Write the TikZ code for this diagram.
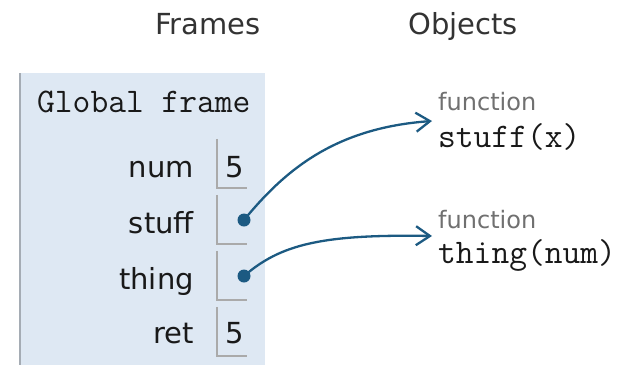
\documentclass[tikz,border=0pt]{standalone}
\usepackage{fontspec}
\setmainfont{DejaVu Sans}
\usetikzlibrary{arrows.meta,calc}
\definecolor{framebg}{RGB}{222,232,243}
\definecolor{framerule}{RGB}{165,172,180}
\definecolor{cellrule}{RGB}{170,170,170}
\definecolor{pointer}{RGB}{28,90,130}
\definecolor{headtext}{RGB}{51,51,51}
\definecolor{labeltext}{RGB}{112,112,112}
\definecolor{nametext}{RGB}{25,25,25}
\begin{document}
\begin{tikzpicture}[x=1pt,y=-1pt,
  head/.style={font=\fontsize{29}{34}\selectfont, text=headtext, inner sep=0pt, anchor=base west},
  varname/.style={font=\fontsize{29}{34}\selectfont, text=nametext, inner sep=0pt, anchor=base east},
  value/.style={font=\fontsize{29}{34}\selectfont, text=nametext, inner sep=0pt, anchor=base},
  code/.style={font=\fontsize{34.5}{40}\selectfont\ttfamily, text=nametext, inner sep=0pt, anchor=base west},
  fnlabel/.style={font=\fontsize{24}{28}\selectfont, text=labeltext, inner sep=0pt, anchor=base west},
  cell/.style={minimum width=30pt, minimum height=49pt, inner sep=0pt},
  cellline/.style={draw=cellrule, line width=1.5pt},
  dot/.style={circle, fill=pointer, inner sep=0pt, minimum size=13pt},
  ptr/.style={draw=pointer, line width=2.3pt, -{Straight Barb[length=14pt,width=19pt,line width=2.3pt]}}
]
\useasboundingbox (0,0) rectangle (627,365);

% column headings
\node[head] (hframes) at (155,34) {Frames};
\node[head] (hobjects) at (408,34) {Objects};

% global frame panel
\node[fill=framebg, minimum width=245pt, minimum height=292pt, inner sep=0pt, anchor=north west] (gframe) at (20,73) {};
\draw[draw=framerule, line width=2pt] (gframe.north west) -- (gframe.south west);
\node[code] (gtitle) at (37,112) {Global frame};

% variable names
\node[varname] (nnum)   at (194,177) {num};
\node[varname] (nstuff) at (194,233) {stuff};
\node[varname] (nthing) at (194,289) {thing};
\node[varname] (nret)   at (194,343) {ret};

% value cells (left and bottom rules only)
\node[cell] (cnum)   at (232,163.5) {};
\node[cell] (cstuff) at (232,219.5) {};
\node[cell] (cthing) at (232,275.5) {};
\node[cell] (cret)   at (232,331.5) {};
\foreach \c in {cnum,cstuff,cthing,cret}
  \draw[cellline] (\c.north west) |- (\c.south east);

% primitive values
\node[value] (vnum) at (235,177) {5};
\node[value] (vret) at (235,343) {5};

% pointer dots
\node[dot] (dstuff) at (244,220) {};
\node[dot] (dthing) at (244,276) {};

% function objects
\node[fnlabel] (fn1) at (438,110) {function};
\node[code] (code1) at (438,147) {stuff(x)};
\node[fnlabel] (fn2) at (438,228) {function};
\node[code] (code2) at (438,263) {thing(num)};

\coordinate (tip1) at ([shift={(-6,11)}]fn1.base west);
\coordinate (tip2) at ([shift={(-6,8)}]fn2.base west);

% pointers
\draw[ptr] (dstuff.center) .. controls (285,170) and (335,128) .. (tip1);
\draw[ptr] (dthing.center) .. controls (280,245) and (320,234) .. (tip2);
\end{tikzpicture}
\end{document}
